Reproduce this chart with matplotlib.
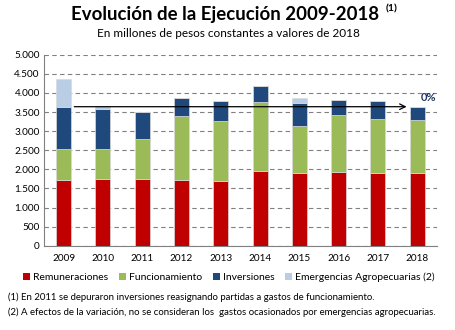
import numpy as np
import matplotlib.pyplot as plt
from matplotlib.patches import Patch

plt.rcParams['font.family'] = ['Lato', 'DejaVu Sans']

years = ['2009', '2010', '2011', '2012', '2013', '2014', '2015', '2016', '2017', '2018']
remuneraciones = [1710, 1737, 1754, 1710, 1693, 1955, 1894, 1937, 1894, 1911]
funcionamiento = [821, 794, 1030, 1676, 1562, 1797, 1247, 1475, 1431, 1387]
inversiones = [1099, 1047, 706, 488, 523, 436, 585, 393, 453, 341]
emergencias = [733, 87, 0, 0, 0, 0, 148, 0, 0, 0]
ref_value = 3640
variation_label = '0%'

series = [
    ('Remuneraciones', remuneraciones, '#C00000'),
    ('Funcionamiento', funcionamiento, '#9BBB59'),
    ('Inversiones', inversiones, '#1F497D'),
    ('Emergencias Agropecuarias (2)', emergencias, '#B9CDE5'),
]

fig = plt.figure(figsize=(4.56, 3.30), dpi=100)
ax = fig.add_axes([0.0965, 0.2555, 0.8615, 0.5785])

x = np.arange(len(years))
bottom = np.zeros(len(years))
handles = []
for name, vals, color in series:
    vals = np.array(vals, dtype=float)
    ax.bar(x, vals, width=0.38, bottom=bottom, color=color,
           edgecolor='#d9d9d9', linewidth=0.5, zorder=3)
    bottom += vals
    handles.append(Patch(facecolor=color, label=name))

# linea de referencia 2009 -> 2018
ax.annotate('', xy=(x[-1] - 0.2, ref_value), xytext=(x[0] + 0.2, ref_value),
            arrowprops=dict(arrowstyle='->', color='black', lw=0.9), zorder=5)
ax.text(x[-1] + 0.3, ref_value + 110, variation_label, fontsize=8,
        fontweight='bold', color='#1F3864', ha='center', va='bottom')

ax.set_xlim(-0.5, 9.5)
ax.set_ylim(0, 5000)
ax.set_yticks(np.arange(0, 5001, 500))
ax.set_yticklabels([f'{v:,}'.replace(',', '.') for v in range(0, 5001, 500)])
ax.set_xticks(x)
ax.set_xticklabels(years)
ax.tick_params(axis='both', labelsize=7.2, length=0, colors='black', pad=3)
ax.tick_params(axis='x', pad=6)
ax.yaxis.grid(True, linestyle=(0, (4, 3)), color='#808080', linewidth=0.8, zorder=0)
for s in ['top', 'right']:
    ax.spines[s].set_visible(False)
for s in ['left', 'bottom']:
    ax.spines[s].set_color('#808080')

fig.text(0.493, 0.957, 'Evolución de la Ejecución 2009-2018', fontsize=13.4,
         fontweight='bold', ha='center', va='center')
fig.text(0.846, 0.972, '(1)', fontsize=7.5, fontweight='bold', ha='left', va='center')
fig.text(0.5, 0.898, 'En millones de pesos constantes a valores de 2018',
         fontsize=8.5, ha='center', va='center')

fig.legend(handles=handles, loc='center', bbox_to_anchor=(0.502, 0.16), ncol=4,
           fontsize=7.5, frameon=False, handlelength=0.7, handleheight=0.7,
           handletextpad=0.3, columnspacing=1.0, borderaxespad=0)

fig.text(0.018, 0.1, '(1) En 2011 se depuraron inversiones reasignando partidas a gastos de funcionamiento.',
         fontsize=6.9, ha='left', va='center')
fig.text(0.018, 0.054, '(2) A efectos de la variación, no se consideran los  gastos ocasionados por emergencias agropecuarias.',
         fontsize=6.9, ha='left', va='center')

fig.savefig('out.png', dpi=100)
